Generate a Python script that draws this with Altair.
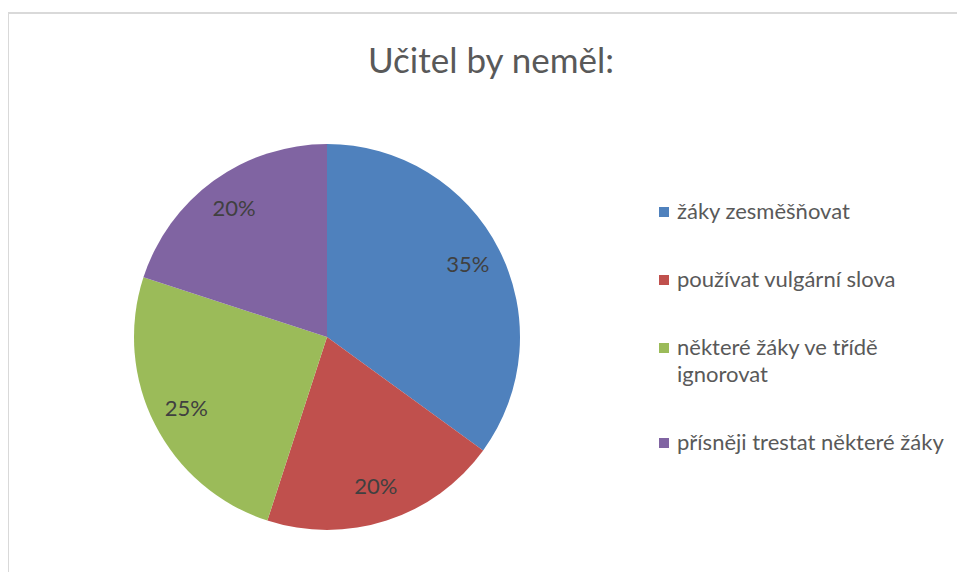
import altair as alt
import pandas as pd

categories = ["žáky zesměšňovat", "používat vulgární slova",
              "některé žáky ve třídě ignorovat", "přísněji trestat některé žáky"]
values = [35, 20, 25, 20]
colors = ["#4F81BD", "#C0504D", "#9BBB59", "#8064A2"]
title_text = "Učitel by neměl:"

df = pd.DataFrame({"cat": categories, "val": values, "idx": list(range(len(categories)))})
df["lbl"] = [f"{v}%" for v in values]

W, H = 949, 564
CX, CY, R = 319, 329, 193
FONT = "Lato"

base = alt.Chart(df).encode(
    theta=alt.Theta("val:Q", stack=True),
    order=alt.Order("idx:Q"),
)

pie = base.mark_arc(outerRadius=R, stroke=None).encode(
    x=alt.value(CX), y=alt.value(CY),
    color=alt.Color(
        "cat:N",
        scale=alt.Scale(domain=categories, range=colors),
        sort=categories,
        legend=alt.Legend(
            title=None, orient="none", legendX=645, legendY=193,
            symbolType="square", symbolSize=100, symbolStrokeWidth=0,
            labelFont=FONT, labelFontSize=22, labelColor="#595959",
            labelLimit=400, rowPadding=46, padding=0, labelOffset=2,
            labelExpr="datum.label == 'některé žáky ve třídě ignorovat' ? ['některé žáky ve třídě', 'ignorovat'] : datum.label",
        ),
    ),
)

labels = base.mark_text(radius=158, font=FONT, fontSize=22, color="#404040").encode(
    x=alt.value(CX), y=alt.value(CY), text="lbl:N"
)

title = alt.Chart(pd.DataFrame({"t": [title_text]})).mark_text(
    font=FONT, fontSize=35, color="#595959", baseline="alphabetic", align="center"
).encode(x=alt.value(483), y=alt.value(65), text="t:N")

border = alt.Chart(pd.DataFrame({"a": [0]})).mark_rect(
    fill=None, stroke="#D9D9D9", strokeWidth=2
).encode(x=alt.value(0), x2=alt.value(1200), y=alt.value(5), y2=alt.value(900))

chart = alt.layer(border, pie, labels, title).properties(
    width=W, height=H, autosize=alt.AutoSizeParams(type="none"), padding=0
).configure(
    style={"guide-label": {"lineHeight": 27}}
).configure_view(stroke=None)

chart.save("out.html", embed_options={"renderer": "svg", "actions": False})
